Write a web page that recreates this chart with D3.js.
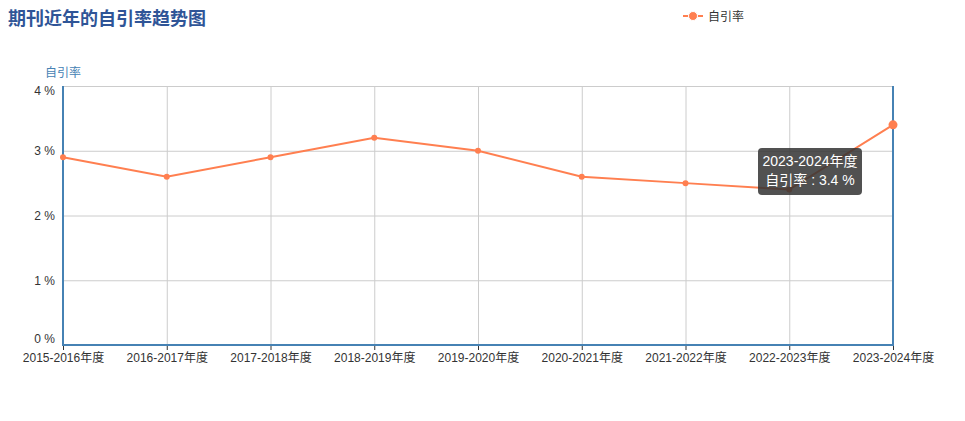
<!DOCTYPE html>
<html><head><meta charset="utf-8">
<script src="https://cdn.jsdelivr.net/npm/d3@7"></script>
<style>
html,body{margin:0;padding:0;background:#fff;}
body{width:965px;height:421px;overflow:hidden;font-family:"Liberation Sans","Noto Sans CJK SC",sans-serif;}
</style></head><body>
<svg id="c" width="965" height="421"></svg>
<script>
const categories = ["2015-2016年度","2016-2017年度","2017-2018年度","2018-2019年度","2019-2020年度","2020-2021年度","2021-2022年度","2022-2023年度","2023-2024年度"];
const selfCitationRate = [2.9, 2.6, 2.9, 3.2, 3.0, 2.6, 2.5, 2.4, 3.4];
const yTicks = [0, 1, 2, 3, 4];
const seriesName = "自引率";
const titleText = "期刊近年的自引率趋势图";

const svg = d3.select("#c");
const L = 63, R = 893, T = 86, B = 345;
const font = "'Liberation Sans', 'Noto Sans CJK SC', sans-serif";
const titleFont = "'Noto Sans CJK SC', sans-serif";
const axisBlue = "#4682b4";
const lineColor = "#ff7f50";

const x = d3.scalePoint().domain(categories).range([L, R]).padding(0);
const y = d3.scaleLinear().domain([0, 4]).range([B, T]);

// title
svg.append("text").attr("x", 8).attr("y", 25).text(titleText)
  .attr("font-family", titleFont).attr("font-size", 18).attr("font-weight", "bold").attr("fill", "#2f5597");

// legend
const lg = svg.append("g");
lg.append("line").attr("x1", 683).attr("x2", 703).attr("y1", 16).attr("y2", 16)
  .attr("stroke", lineColor).attr("stroke-width", 2);
lg.append("circle").attr("cx", 693).attr("cy", 16).attr("r", 4.5).attr("fill", lineColor)
  .attr("stroke", "#fff").attr("stroke-width", 1);
lg.append("text").attr("x", 708).attr("y", 20.5).text(seriesName)
  .attr("font-family", font).attr("font-size", 12).attr("fill", "#333");

// grid
const grid = svg.append("g");
grid.selectAll("line.h").data(yTicks).join("line")
  .attr("x1", L).attr("x2", R).attr("y1", d => y(d) + 0.5).attr("y2", d => y(d) + 0.5)
  .attr("stroke", "#ccc").attr("stroke-width", 1);
grid.selectAll("line.v").data(categories).join("line")
  .attr("x1", d => x(d) + 0.5).attr("x2", d => x(d) + 0.5).attr("y1", T).attr("y2", B)
  .attr("stroke", "#ccc").attr("stroke-width", 1);

// y axis
const yAxis = svg.append("g").attr("transform", `translate(${L},0)`)
  .call(d3.axisLeft(y).tickValues(yTicks).tickFormat(d => d + " %").tickSize(0).tickPadding(8));
yAxis.select(".domain").remove();
yAxis.selectAll("text").attr("font-family", font).attr("font-size", 12).attr("fill", "#333");
// extreme labels kept inside the plot range
yAxis.selectAll(".tick").filter(d => d === 4).select("text").attr("dy", "0.32em").attr("y", 5);
yAxis.selectAll(".tick").filter(d => d === 0).select("text").attr("dy", "0.32em").attr("y", -6);

svg.append("text").attr("x", 45).attr("y", 77).text(seriesName)
  .attr("font-family", font).attr("font-size", 12).attr("fill", axisBlue);

// x axis
const xAxis = svg.append("g").attr("transform", `translate(0,${B})`)
  .call(d3.axisBottom(x).tickSize(5).tickPadding(3));
xAxis.select(".domain").remove();
xAxis.selectAll("line").attr("stroke", "#333");
xAxis.selectAll("text").attr("font-family", font).attr("font-size", 12).attr("fill", "#333");

// axis lines
svg.append("line").attr("x1", L).attr("x2", L).attr("y1", T).attr("y2", B + 1)
  .attr("stroke", axisBlue).attr("stroke-width", 2);
svg.append("line").attr("x1", R).attr("x2", R).attr("y1", T).attr("y2", B + 1)
  .attr("stroke", axisBlue).attr("stroke-width", 2);
svg.append("line").attr("x1", L - 1).attr("x2", R + 1).attr("y1", B).attr("y2", B)
  .attr("stroke", axisBlue).attr("stroke-width", 2);

// line
const data = categories.map((c, i) => ({c, v: selfCitationRate[i]}));
svg.append("path").datum(data)
  .attr("d", d3.line().x(d => x(d.c)).y(d => y(d.v)))
  .attr("fill", "none").attr("stroke", lineColor).attr("stroke-width", 2);
svg.selectAll("circle.pt").data(data).join("circle").attr("class", "pt")
  .attr("cx", d => x(d.c)).attr("cy", d => y(d.v))
  .attr("r", (d, i) => i === data.length - 1 ? 4.5 : 3)
  .attr("fill", lineColor);

// tooltip (static, as in reference)
const hl = data[data.length - 1];
const tt = svg.append("g").attr("transform", "translate(758,148)");
tt.append("rect").attr("width", 104).attr("height", 47).attr("rx", 4)
  .attr("fill", "rgba(50,50,50,0.85)");
tt.append("text").attr("x", 52).attr("y", 18).attr("text-anchor", "middle").text(hl.c)
  .attr("font-family", font).attr("font-size", 14).attr("fill", "#fff");
tt.append("text").attr("x", 52).attr("y", 37).attr("text-anchor", "middle").text(seriesName + " : " + hl.v + " %")
  .attr("font-family", font).attr("font-size", 14).attr("fill", "#fff");
</script>
</body></html>
